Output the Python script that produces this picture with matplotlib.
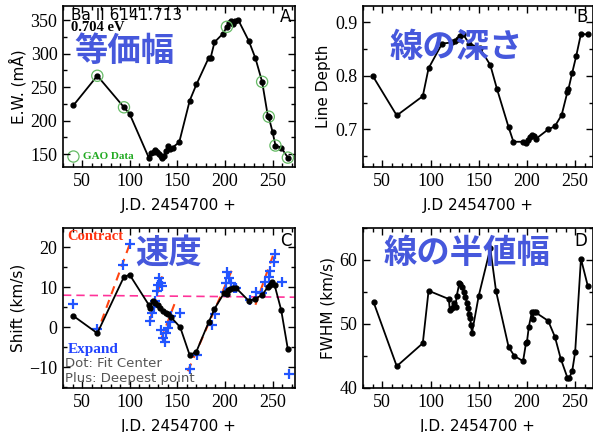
import matplotlib
matplotlib.use("Agg")
import matplotlib.pyplot as plt
from matplotlib.ticker import MultipleLocator, FormatStrFormatter

# ---------------- data ----------------
ew_x = [41, 66, 94, 100, 120, 122, 125, 127, 129, 131, 133, 134, 136, 138, 140, 142, 145, 152,
        163, 170, 183, 185, 189, 198, 202, 204, 206, 208, 211, 214, 225, 232, 239, 245, 246,
        250, 253, 259, 266]
ew_y = [223, 267, 220, 210, 145, 152, 154, 156, 153, 150, 147, 145, 148, 155, 163, 158, 160, 168,
        230, 254, 294, 294, 317, 330, 340, 345, 348, 344, 349, 350, 319, 293, 258, 207, 205,
        183, 163, 160, 145]
gao_x = [66, 94, 202, 239, 246, 253, 266]
gao_y = [267, 220, 340, 258, 206, 163, 145]

ld_x = [40, 65, 92, 98, 112, 122, 125, 128, 131, 134, 140, 151, 162, 169, 181, 186, 196, 199,
        201, 203, 205, 207, 209, 222, 229, 236, 242, 243, 247, 251, 256, 263]
ld_y = [0.800, 0.726, 0.762, 0.814, 0.860, 0.862, 0.864, 0.868, 0.874, 0.877, 0.860, 0.852,
        0.820, 0.775, 0.704, 0.677, 0.677, 0.674, 0.680, 0.686, 0.690, 0.688, 0.682, 0.700,
        0.706, 0.727, 0.770, 0.775, 0.806, 0.836, 0.878, 0.877]

vc_x = [41, 66, 94, 100, 120, 121, 124, 127, 130, 132, 135, 138, 140, 143, 153, 163, 170, 183,
        189, 199, 202, 203, 205, 208, 212, 225, 232, 239, 245, 247, 249, 252, 259, 266]
vc_y = [2.8, -1.5, 12.6, 13.1, 5.6, 4.8, 6.5, 6.0, 5.6, 4.8, 4.0, 3.5, 3.2, 2.6, 0.0, -7.0, -6.1,
        1.3, 4.6, 8.5, 8.3, 9.4, 9.6, 9.8, 9.7, 6.6, 7.1, 8.1, 10.0, 10.6, 11.3, 10.6, 4.3, -5.5]
vd_x = [41, 66, 93, 100, 121, 123, 126, 127, 129, 130, 131, 133, 134, 133, 135, 137, 138, 140,
        142, 143, 153, 163, 171, 186, 190, 200, 201, 202, 204, 206, 209, 212, 226, 233, 239,
        242, 246, 247, 251, 253, 260, 267]
vd_y = [5.8, -0.4, 15.6, 20.8, 1.6, 3.5, 5.0, 6.5, 9.0, 10.6, 12.4, 11.0, 10.2, -0.7, -2.6, -3.7,
        -1.5, -0.1, 1.3, 2.7, 3.5, -10.4, -6.9, 0.6, 3.4, 8.9, 11.0, 13.8, 12.2, 11.0, 9.9, 9.7,
        6.8, 8.9, 8.5, 11.4, 12.6, 14.0, 16.4, 18.3, 11.3, -11.7]
contract_segments = [((65, 101), (-2.0, 21.4)), ((121, 134), (1.5, 12.7)),
                     ((133, 147), (-3.0, 5.8)), ((161, 207), (-11.0, 14.1)),
                     ((232, 252), (5.6, 19.0))]
mean_line_x = [30, 273]
mean_line_y = [8.0, 7.5]

fw_x = [41, 65, 92, 98, 119, 120, 122, 124, 126, 127, 130, 131, 133, 135, 136, 138, 139, 140,
        141, 142, 143, 150, 162, 168, 181, 187, 196, 199, 200, 202, 205, 206, 207, 209, 222,
        229, 235, 242, 244, 247, 250, 256, 263]
fw_y = [53.4, 43.4, 47.0, 55.2, 53.9, 52.2, 52.5, 53.3, 52.6, 54.3, 56.4, 56.2, 55.8, 55.0, 54.2,
        53.3, 52.5, 51.6, 50.9, 49.8, 48.6, 54.4, 61.8, 55.1, 46.4, 45.0, 44.2, 47.0, 47.2, 49.6,
        51.8, 50.8, 51.8, 51.8, 50.5, 48.0, 44.6, 41.6, 41.6, 42.7, 45.6, 60.2, 56.0]

# ---------------- style ----------------
SERIF = 'Liberation Serif'
SANS = 'DejaVu Sans'
JP = ['Noto Sans CJK JP', 'DejaVu Sans']
BLUE_TXT = '#4658dc'
plt.rcParams['font.family'] = [SERIF, 'DejaVu Serif']

W, H = 593, 432
fig = plt.figure(figsize=(W / 100, H / 100), dpi=100)


def make_ax(l, r, t, b):
    return fig.add_axes([l / W, 1 - b / H, (r - l) / W, (b - t) / H])


def style(ax, xlim, ylim, ymaj, ymin, ylabel, xlabel):
    ax.set_xlim(*xlim)
    ax.set_ylim(*ylim)
    ax.xaxis.set_major_locator(MultipleLocator(50))
    ax.xaxis.set_minor_locator(MultipleLocator(10))
    ax.yaxis.set_major_locator(MultipleLocator(ymaj))
    ax.yaxis.set_minor_locator(MultipleLocator(ymin))
    ax.tick_params(which='both', direction='in', top=True, right=True, width=1)
    ax.tick_params(which='major', length=5, labelsize=13, pad=4, labelfontfamily=SERIF)
    ax.tick_params(which='minor', length=3)
    for s in ax.spines.values():
        s.set_linewidth(1.2)
    ax.set_ylabel(ylabel, fontsize=11, family=SANS, labelpad=3)
    ax.set_xlabel(xlabel, fontsize=11, family=SANS, labelpad=6)


# ---- Panel A ----
axA = make_ax(63, 295, 6, 167)
axA.plot(ew_x, ew_y, '-o', color='black', lw=1.3, ms=3.5)
axA.scatter(gao_x, gao_y, s=65, facecolors='none', edgecolors='#66bb66', lw=0.9, zorder=3)
style(axA, (30, 273.5), (131, 371), 50, 25, 'E.W. (mÅ)', 'J.D. 2454700 +')
axA.text(0.035, 0.99, 'Ba II 6141.713', transform=axA.transAxes, va='top', ha='left',
         fontsize=11, family=SANS)
axA.text(0.035, 0.865, '0.704 eV', transform=axA.transAxes, va='center', ha='left',
         fontsize=10.5, family=SERIF, weight='bold')
axA.text(0.985, 0.985, 'A', transform=axA.transAxes, va='top', ha='right', fontsize=12, family=SANS)
axA.scatter([0.045], [0.065], s=65, facecolors='none', edgecolors='#66bb66', lw=0.9,
            transform=axA.transAxes)
axA.text(0.085, 0.065, 'GAO Data', transform=axA.transAxes, va='center', ha='left',
         fontsize=8, family=SERIF, weight='bold', color='#22aa22')
axA.text(0.05, 0.72, '等価幅', transform=axA.transAxes, va='center', ha='left',
         fontsize=24, family=JP, weight='bold', color=BLUE_TXT)

# ---- Panel B ----
axB = make_ax(363, 593, 6, 167)
axB.plot(ld_x, ld_y, '-o', color='black', lw=1.3, ms=3.5)
style(axB, (30, 268.5), (0.63, 0.93), 0.1, 0.05, 'Line Depth', 'J.D 2454700 +')
axB.yaxis.set_major_formatter(FormatStrFormatter('%.1f'))
axB.text(0.975, 0.985, 'B', transform=axB.transAxes, va='top', ha='right', fontsize=12, family=SANS)
axB.text(0.115, 0.74, '線の深さ', transform=axB.transAxes, va='center', ha='left',
         fontsize=24, family=JP, weight='bold', color=BLUE_TXT)

# ---- Panel C ----
axC = make_ax(63, 295, 228, 388)
axC.plot(mean_line_x, mean_line_y, '--', color='#ff3399', lw=1.2, dashes=(5, 3))
for (sx, sy) in contract_segments:
    axC.plot(sx, sy, '--', color='#ff4411', lw=1.5, dashes=(4, 3))
axC.plot(vd_x, vd_y, '+', color='#2255ff', ms=6.5, mew=1.6, zorder=3)
axC.plot(vc_x, vc_y, '-o', color='black', lw=1.3, ms=3.5, zorder=4)
style(axC, (30, 273.5), (-15.2, 24.8), 10, 5, 'Shift (km/s)', 'J.D. 2454700 +')
axC.text(0.985, 0.975, 'C', transform=axC.transAxes, va='top', ha='right', fontsize=12, family=SANS)
axC.text(0.02, 0.95, 'Contract', transform=axC.transAxes, va='center', ha='left',
         fontsize=10.5, family=SERIF, weight='bold', color='#ff3311')
axC.text(0.02, 0.24, 'Expand', transform=axC.transAxes, va='center', ha='left',
         fontsize=11, family=SERIF, weight='bold', color='#2244ff')
axC.text(0.01, 0.155, 'Dot: Fit Center', transform=axC.transAxes, va='center', ha='left',
         fontsize=9.5, family=SANS, color='#555555')
axC.text(0.01, 0.06, 'Plus: Deepest point', transform=axC.transAxes, va='center', ha='left',
         fontsize=9.5, family=SANS, color='#555555')
axC.text(0.31, 0.84, '速度', transform=axC.transAxes, va='center', ha='left',
         fontsize=24, family=JP, weight='bold', color=BLUE_TXT)

# ---- Panel D ----
axD = make_ax(363, 593, 228, 388)
axD.plot(fw_x, fw_y, '-o', color='black', lw=1.3, ms=3.5)
style(axD, (30, 268.5), (40, 65), 10, 5, 'FWHM (km/s)', 'J.D. 2454700 +')
axD.text(0.975, 0.975, 'D', transform=axD.transAxes, va='top', ha='right', fontsize=12, family=SANS)
axD.text(0.09, 0.84, '線の半値幅', transform=axD.transAxes, va='center', ha='left',
         fontsize=24, family=JP, weight='bold', color=BLUE_TXT)

fig.canvas.draw()
for ax in (axA, axB, axC, axD):
    for lab in ax.get_xticklabels() + ax.get_yticklabels():
        lab.set_fontfamily(SERIF)

fig.savefig('out.png', dpi=100)
